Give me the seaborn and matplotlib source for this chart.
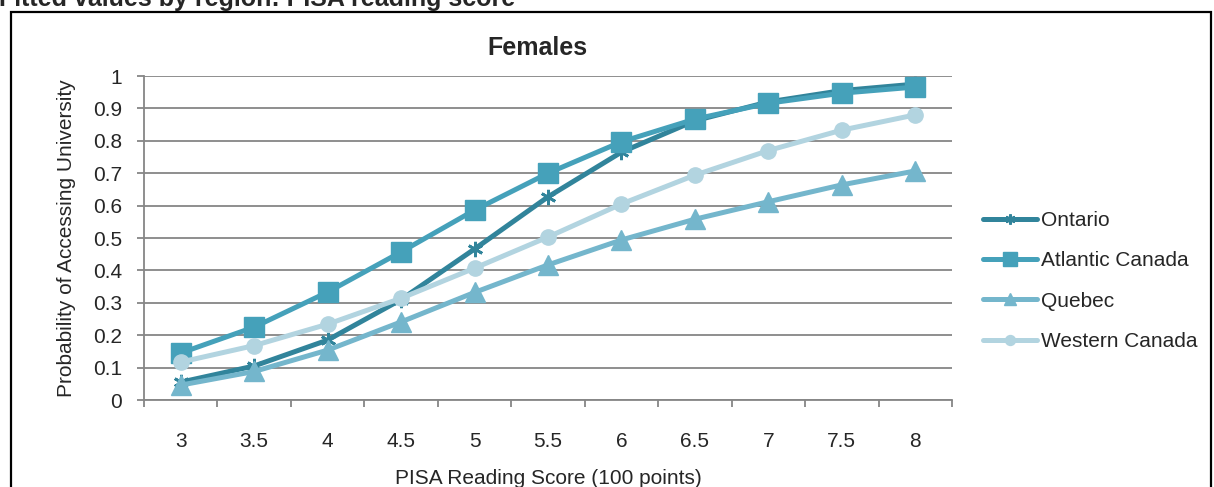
import matplotlib
matplotlib.use("Agg")
import matplotlib.pyplot as plt
from matplotlib.patches import Rectangle
import numpy as np
import pandas as pd
import seaborn as sns

# PISA reading score (in 100-point units) and fitted probabilities by region
scores = [3.0, 3.5, 4.0, 4.5, 5.0, 5.5, 6.0, 6.5, 7.0, 7.5, 8.0]
score_labels = ["3", "3.5", "4", "4.5", "5", "5.5", "6", "6.5", "7", "7.5", "8"]
ontario = [0.055, 0.105, 0.185, 0.31, 0.466, 0.627, 0.765, 0.862, 0.92, 0.955, 0.975]
atlantic = [0.145, 0.225, 0.333, 0.457, 0.586, 0.70, 0.797, 0.867, 0.916, 0.947, 0.966]
quebec = [0.046, 0.088, 0.154, 0.241, 0.332, 0.417, 0.494, 0.558, 0.612, 0.664, 0.707]
western = [0.117, 0.168, 0.234, 0.314, 0.407, 0.503, 0.605, 0.694, 0.770, 0.833, 0.880]
regions = ["Ontario", "Atlantic Canada", "Quebec", "Western Canada"]
y_ticks = [0, 0.1, 0.2, 0.3, 0.4, 0.5, 0.6, 0.7, 0.8, 0.9, 1]
y_tick_labels = ["0", "0.1", "0.2", "0.3", "0.4", "0.5", "0.6", "0.7", "0.8", "0.9", "1"]

df = pd.DataFrame({
    "score": scores * 4,
    "prob": ontario + atlantic + quebec + western,
    "region": np.repeat(regions, len(scores)),
})

sns.set_style("white")
plt.rcParams["font.family"] = ["Liberation Sans", "DejaVu Sans"]

styles = {
    "Ontario": dict(color="#31849B", marker=(6, 2, 0), markersize=11, mew=2.0),
    "Atlantic Canada": dict(color="#45A1BA", marker="s", markersize=14.5, mew=1),
    "Quebec": dict(color="#74B6CC", marker="^", markersize=14, mew=1),
    "Western Canada": dict(color="#B2D4E0", marker="o", markersize=11, mew=1),
}

FS = 15
W, H = 1214, 487
fig = plt.figure(figsize=(W / 100, H / 100), dpi=100)
ax = fig.add_axes([144 / W, (H - 400) / H, (952 - 144) / W, 324 / H])

for r in regions:
    st = styles[r]
    sns.lineplot(
        data=df[df["region"] == r], x="score", y="prob", ax=ax,
        color=st["color"], marker=st["marker"], markersize=st["markersize"],
        markeredgecolor=st["color"], markerfacecolor=st["color"],
        markeredgewidth=st["mew"], linewidth=3.6, label=r,
        estimator=None, errorbar=None,
    )

grey = "#868686"
ax.set_xlim(2.75, 8.25)
ax.set_ylim(0, 1)
ax.set_yticks(y_ticks)
ax.set_yticklabels(y_tick_labels)
ax.yaxis.grid(True, color=grey, linewidth=1.3)
ax.xaxis.grid(False)
ax.set_axisbelow(True)

# category boundaries carry the tick marks, category centres carry the labels
ax.set_xticks(np.arange(2.75, 8.26, 0.5))
ax.set_xticklabels([])
ax.set_xticks(scores, minor=True)
ax.set_xticklabels(score_labels, minor=True)
ax.tick_params(axis="x", which="major", length=5, width=1.3, color=grey, direction="out", bottom=True)
ax.tick_params(axis="x", which="minor", length=0, pad=23, labelsize=FS)
ax.tick_params(axis="y", length=5, width=1.3, color=grey, direction="out", left=True, pad=11, labelsize=FS)

for s in ["top", "right"]:
    ax.spines[s].set_visible(False)
for s in ["left", "bottom"]:
    ax.spines[s].set_color(grey)
    ax.spines[s].set_linewidth(1.3)

ax.set_xlabel("PISA Reading Score (100 points)", fontsize=FS, labelpad=13)
ax.set_ylabel("Probability of Accessing University", fontsize=FS, labelpad=12)

leg = ax.legend(
    loc="center left", bbox_to_anchor=(983 / W, (H - 281) / H), bbox_transform=fig.transFigure,
    frameon=False, fontsize=FS, handlelength=2.6, handletextpad=0.2, labelspacing=1.02,
    borderaxespad=0, borderpad=0,
)
for line, r in zip(leg.get_lines(), regions):
    line.set_markersize(styles[r]["markersize"] * 0.65)

fig.text(537 / W, 1 - 48 / H, "Females", ha="center", va="center", fontsize=18, fontweight="bold")
fig.text(-1 / W, 1 - 6 / H, "Fitted values by region: PISA reading score", ha="left",
         va="baseline", fontsize=18, fontweight="bold")

# frame around the chart area
fig.patches.append(Rectangle((11 / W, -0.05), 1200 / W, 1.05 - 12 / H, transform=fig.transFigure,
                             fill=False, edgecolor="black", linewidth=1.6, clip_on=False))

fig.savefig("out.png", dpi=100)
